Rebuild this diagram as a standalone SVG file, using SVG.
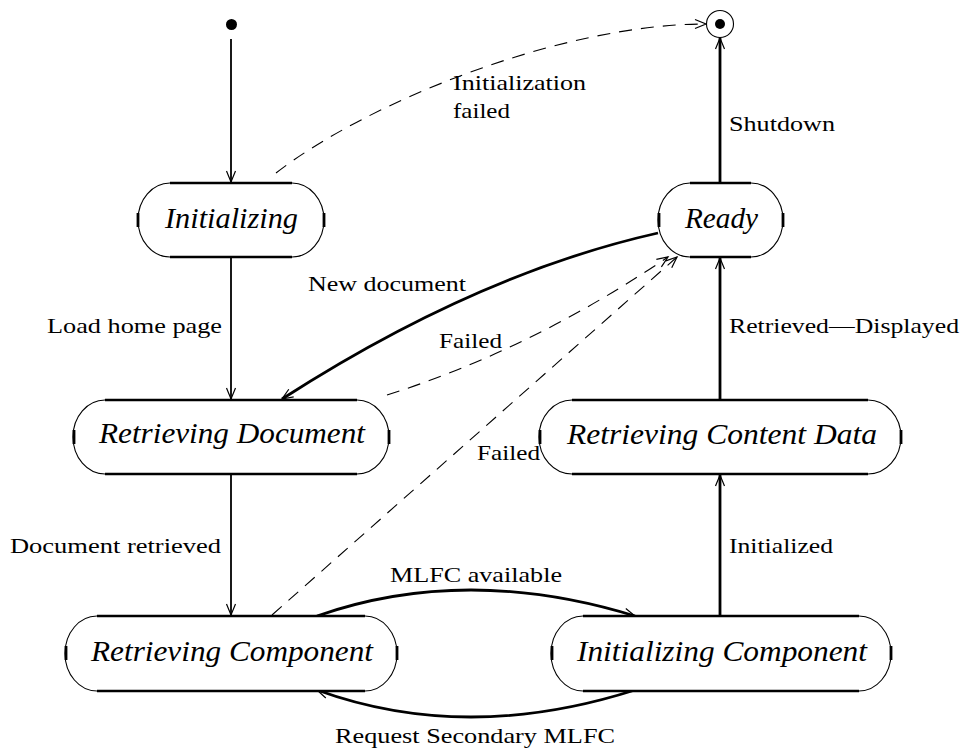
<svg xmlns="http://www.w3.org/2000/svg" width="964" height="751" viewBox="0 0 964 751">
  <style>
    .bg { fill: #ffffff; }
    .edge { fill: none; stroke: #000; stroke-width: 1.8; }
    .thick { fill: none; stroke: #000; stroke-width: 2.8; }
    .dash { fill: none; stroke: #000; stroke-width: 1.1; stroke-dasharray: 13 9; }
    .outline { fill: #fff; stroke: #000; stroke-width: 1.1; }
    .side { fill: none; stroke: #000; stroke-width: 2.4; }
    .tick { fill: none; stroke: #000; stroke-width: 2.8; }
    text { font-family: 'Liberation Serif', 'DejaVu Serif', serif; fill: #000; }
    .name { font-style: italic; font-size: 29px; }
    .lbl { font-size: 21px; }
  </style>
  <defs>
    <marker id="open" markerUnits="userSpaceOnUse" markerWidth="16" markerHeight="12" refX="0" refY="0" viewBox="-13 -6 16 12" orient="auto">
      <path d="M-11,-4.5 L0,0 L-11,4.5" fill="none" stroke="#000" stroke-width="1.2"/>
    </marker>
  </defs>

  <rect class="bg" x="0" y="0" width="964" height="751"/>

  <!-- transitions -->
  <g id="connectors">
    <line class="edge" x1="231" y1="39" x2="231" y2="182" marker-end="url(#open)"/>
    <line class="edge" x1="231" y1="257" x2="231" y2="399" marker-end="url(#open)"/>
    <line class="edge" x1="231" y1="474" x2="231" y2="615" marker-end="url(#open)"/>
    <path class="dash" d="M276,173 C366,103 560,24 706,24" marker-end="url(#open)"/>
    <line class="thick" x1="720" y1="183" x2="720" y2="38" marker-end="url(#open)"/>
    <line class="thick" x1="720" y1="400" x2="720" y2="258" marker-end="url(#open)"/>
    <line class="thick" x1="720" y1="616" x2="720" y2="475" marker-end="url(#open)"/>
    <path class="thick" d="M658,233 Q476,274 282,399" marker-end="url(#open)"/>
    <path class="dash" d="M387,395 Q530,350 668,257" marker-end="url(#open)"/>
    <line class="dash" x1="272" y1="615" x2="677" y2="257" marker-end="url(#open)"/>
    <path class="thick" d="M317,616 Q466,564 635,616" marker-end="url(#open)"/>
    <path class="thick" d="M635,690 Q466,744 317,690" marker-end="url(#open)"/>
  </g>

  <!-- pseudo states -->
  <g id="initial">
    <circle cx="231.5" cy="24.5" r="5.5" fill="#000"/>
  </g>
  <g id="final">
    <circle cx="720" cy="24" r="13.5" fill="#fff" stroke="#000" stroke-width="1.1"/>
    <circle cx="720" cy="24" r="5" fill="#000"/>
  </g>

  <!-- states -->
  <g id="initializing">
    <path class="outline" d="M170,183 H292 A32,37 0 0 1 292,257 H170 A32,37 0 0 1 170,183 Z"/>
    <path class="side" d="M170,183 H292 M170,257 H292"/>
    <path class="tick" d="M138,213 V227 M324,213 V227"/>
    <text class="name" x="165" y="228" textLength="133" lengthAdjust="spacingAndGlyphs">Initializing</text>
  </g>
  <g id="ready">
    <path class="outline" d="M690,183 H751 A32,37 0 0 1 751,257 H690 A32,37 0 0 1 690,183 Z"/>
    <path class="side" d="M690,183 H751 M690,257 H751"/>
    <path class="tick" d="M659,213 V227 M783,213 V227"/>
    <text class="name" x="685" y="228" textLength="73" lengthAdjust="spacingAndGlyphs">Ready</text>
  </g>
  <g id="retrieving-document">
    <path class="outline" d="M105,400 H357 A32,37 0 0 1 357,474 H105 A32,37 0 0 1 105,400 Z"/>
    <path class="side" d="M105,400 H357 M105,474 H357"/>
    <path class="tick" d="M74,430 V444 M389,430 V444"/>
    <text class="name" x="99" y="443" textLength="266" lengthAdjust="spacingAndGlyphs">Retrieving Document</text>
  </g>
  <g id="retrieving-content-data">
    <path class="outline" d="M572,400 H868 A33,37 0 0 1 868,474 H572 A33,37 0 0 1 572,400 Z"/>
    <path class="side" d="M572,400 H868 M572,474 H868"/>
    <path class="tick" d="M540,430 V444 M901,430 V444"/>
    <text class="name" x="567" y="444" textLength="310" lengthAdjust="spacingAndGlyphs">Retrieving Content Data</text>
  </g>
  <g id="retrieving-component">
    <path class="outline" d="M97,616 H365 A32,37.5 0 0 1 365,691 H97 A32,37.5 0 0 1 97,616 Z"/>
    <path class="side" d="M97,616 H365 M97,691 H365"/>
    <path class="tick" d="M66,646 V660 M397,646 V660"/>
    <text class="name" x="91" y="661" textLength="282" lengthAdjust="spacingAndGlyphs">Retrieving Component</text>
  </g>
  <g id="initializing-component">
    <path class="outline" d="M583,616 H859 A32,37.5 0 0 1 859,691 H583 A32,37.5 0 0 1 583,616 Z"/>
    <path class="side" d="M583,616 H859 M583,691 H859"/>
    <path class="tick" d="M552,646 V660 M891,646 V660"/>
    <text class="name" x="577" y="661" textLength="290" lengthAdjust="spacingAndGlyphs">Initializing Component</text>
  </g>

  <!-- transition labels -->
  <g id="labels">
    <text class="lbl" x="453" y="90" textLength="133" lengthAdjust="spacingAndGlyphs">Initialization</text>
    <text class="lbl" x="453" y="118" textLength="57" lengthAdjust="spacingAndGlyphs">failed</text>
    <text class="lbl" x="729" y="131" textLength="106" lengthAdjust="spacingAndGlyphs">Shutdown</text>
    <text class="lbl" x="308" y="291" textLength="158" lengthAdjust="spacingAndGlyphs">New document</text>
    <text class="lbl" x="47" y="333" textLength="175" lengthAdjust="spacingAndGlyphs">Load home page</text>
    <text class="lbl" x="729" y="333" textLength="230" lengthAdjust="spacingAndGlyphs">Retrieved—Displayed</text>
    <text class="lbl" x="439" y="348" textLength="63" lengthAdjust="spacingAndGlyphs">Failed</text>
    <text class="lbl" x="477" y="460" textLength="63" lengthAdjust="spacingAndGlyphs">Failed</text>
    <text class="lbl" x="10" y="553" textLength="211" lengthAdjust="spacingAndGlyphs">Document retrieved</text>
    <text class="lbl" x="729" y="553" textLength="104" lengthAdjust="spacingAndGlyphs">Initialized</text>
    <text class="lbl" x="390" y="582" textLength="172" lengthAdjust="spacingAndGlyphs">MLFC available</text>
    <text class="lbl" x="335" y="743" textLength="280" lengthAdjust="spacingAndGlyphs">Request Secondary MLFC</text>
  </g>
</svg>
